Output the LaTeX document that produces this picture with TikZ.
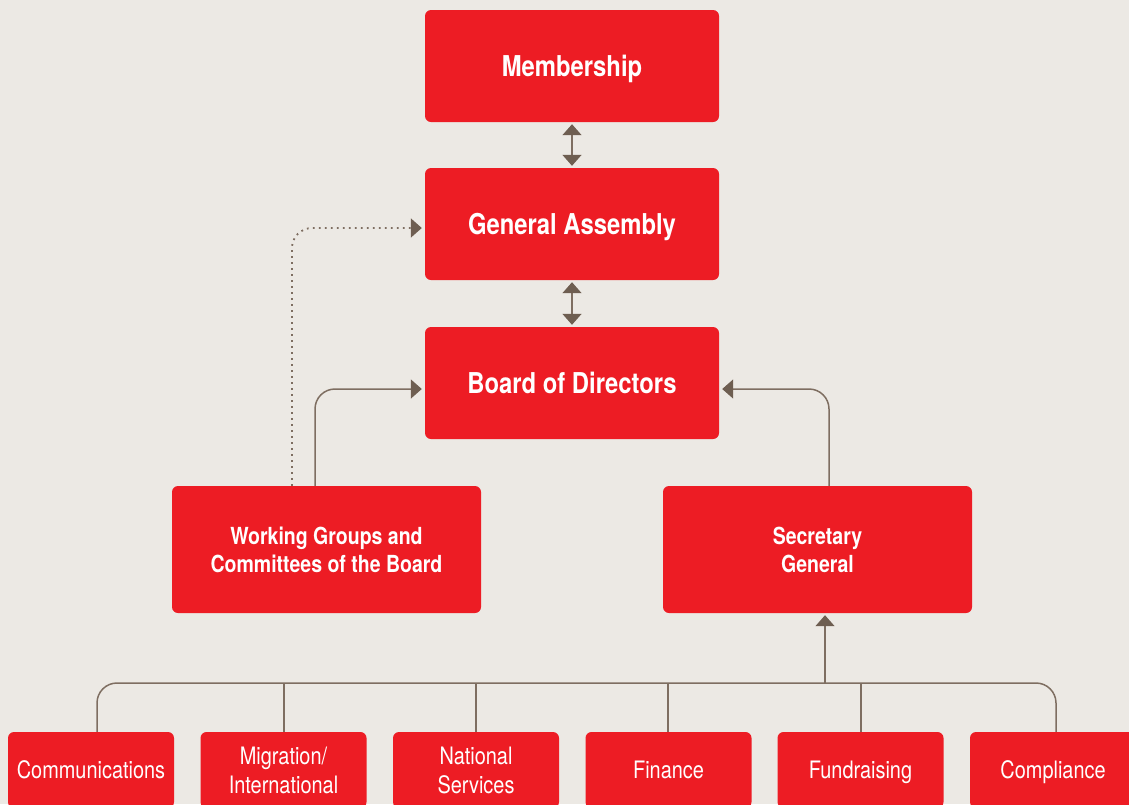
\documentclass[tikz,border=0pt]{standalone}
\usepackage{fontspec}
\setmainfont{TeX Gyre Heros}[FakeStretch=0.83]
\usetikzlibrary{arrows.meta}
\definecolor{bgc}{HTML}{ECE9E4}
\definecolor{redc}{HTML}{ED1C24}
\definecolor{linec}{HTML}{7E6E61}
\definecolor{tipc}{HTML}{6E5E51}
\tikzset{
  box/.style={fill=redc, draw=none, rounded corners=6pt, text=white, inner sep=0pt, align=center},
  titlebox/.style={box, minimum width=294pt, minimum height=112pt,
    font=\bfseries\fontsize{28.7}{34}\selectfont, text height=20.6pt, text depth=0pt},
  midbox/.style={box, minimum width=309pt, minimum height=127pt,
    font=\bfseries\fontsize{23.5}{28}\selectfont},
  lowbox/.style={box, minimum width=166pt, minimum height=76pt,
    font=\fontsize{24}{29}\selectfont},
  lowone/.style={lowbox, text height=17.3pt, text depth=0pt},
  conn/.style={draw=linec, line width=1.5pt},
  tip/.style={-{Triangle[length=11pt,width=19pt,color=tipc]}},
  dtip/.style={{Triangle[length=11pt,width=19pt,color=tipc]}-{Triangle[length=11pt,width=19pt,color=tipc]}},
  dots/.style={draw=linec, line width=1.8pt, dash pattern=on 1.8pt off 4.2pt}
}
\begin{document}
\begin{tikzpicture}[x=1pt,y=-1pt]
\useasboundingbox (0,0) rectangle (1129,804);
\clip (0,0) rectangle (1129,804);
\fill[bgc] (0,0) rectangle (1129,804);

\node[titlebox] (MEM) at (572,66) {Membership};
\node[titlebox] (GA) at (572,224) {General Assembly};
\node[titlebox] (BD) at (572,383) {Board of Directors};
\node[midbox] (WG) at (326.5,549.5) {Working Groups and\\Committees of the Board};
\node[midbox] (SG) at (817.5,549.5) {Secretary\\General};

\node[lowone] (COM) at (91,770) {Communications};
\node[lowbox] (MIG) at (283.5,770) {Migration/\\International};
\node[lowbox] (NAT) at (476,770) {National\\Services};
\node[lowone] (FIN) at (668.5,770) {Finance};
\node[lowone] (FUN) at (860.5,770) {Fundraising};
\node[lowone] (CMP) at (1053,770) {Compliance};

\coordinate (bus) at (0,683);

% vertical double arrows
\draw[conn, dtip, shorten <=2pt, shorten >=2pt] (MEM.south) -- (GA.north);
\draw[conn, dtip, shorten <=2pt, shorten >=2pt] (GA.south) -- (BD.north);

% dotted link from working groups to general assembly
\draw[dots, rounded corners=20pt, tip, shorten >=3pt] ([xshift=-34.5pt]WG.north) |- ([yshift=-4pt]GA.west);

% working groups and secretary general to board
\draw[conn, rounded corners=20pt, tip, shorten >=3pt] ([xshift=-11.5pt]WG.north) |- ([yshift=-6pt]BD.west);
\draw[conn, rounded corners=20pt, tip, shorten >=3pt] ([xshift=11.5pt]SG.north) |- ([yshift=-6pt]BD.east);

% bus
\draw[conn, rounded corners=20pt] ([xshift=6pt]COM.north) -- ([xshift=6pt]COM.north |- bus) -| ([xshift=3pt]CMP.north);
\draw[conn] ([xshift=0.5pt]MIG.north) -- ([xshift=0.5pt]MIG.north |- bus);
\draw[conn] (NAT.north) -- (NAT.north |- bus);
\draw[conn] ([xshift=-0.5pt]FIN.north) -- ([xshift=-0.5pt]FIN.north |- bus);
\draw[conn] ([xshift=0.5pt]FUN.north) -- ([xshift=0.5pt]FUN.north |- bus);
\draw[conn, tip, shorten >=2pt] ([xshift=7.5pt]SG.south |- bus) -- ([xshift=7.5pt]SG.south);
\end{tikzpicture}
\end{document}
